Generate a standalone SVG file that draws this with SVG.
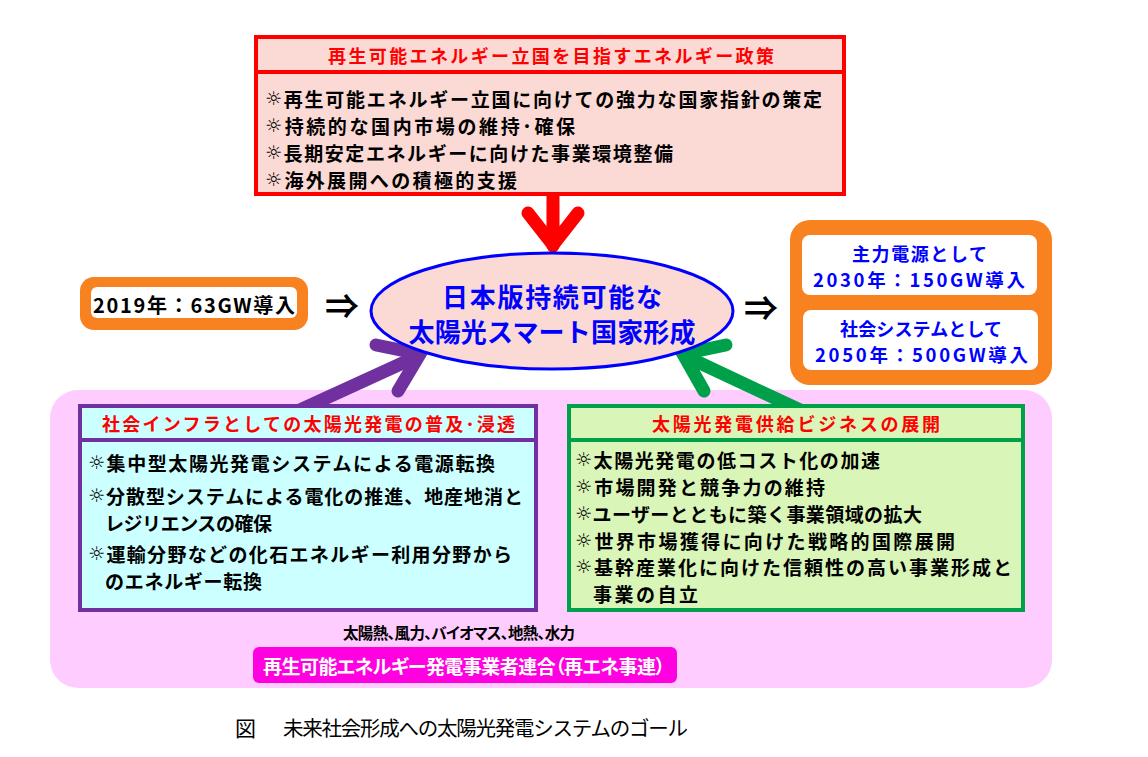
<svg xmlns="http://www.w3.org/2000/svg" width="1148" height="757" viewBox="0 0 1148 757">
<style>
text{font-family:"Noto Sans CJK JP","Liberation Sans",sans-serif;dominant-baseline:central}
.b{font-weight:bold}
.p{font-feature-settings:"palt"}
.body{font-size:19px;font-weight:bold;fill:#000}
.hdr{font-size:18px;font-weight:bold;fill:#ff0000}
.blue{fill:#0000ff;font-weight:bold}
.sym{font-size:34px;font-weight:bold;fill:#000}
.sun{font-family:"DejaVu Sans",sans-serif;font-size:19px;font-weight:normal}
</style>
<rect width="1148" height="757" fill="#ffffff"/>
<!-- background panel -->
<g id="panel">
<rect x="50" y="390" width="1002" height="298" rx="28" fill="#ffccff"/>
</g>
<!-- connectors -->
<g id="connectors" fill="none" stroke-linecap="round" stroke-width="13">
<g stroke="#ff0000">
<line x1="553" y1="196" x2="553" y2="246"/>
<path d="M528,213 L553,245 L578,213" stroke-linejoin="miter"/>
</g>
<g stroke="#7030a0">
<line x1="300" y1="410" x2="418" y2="356"/>
<path d="M376,345 L420,354 L398,391" stroke-linejoin="miter"/>
</g>
<g stroke="#00a04a">
<line x1="800" y1="410" x2="685" y2="356"/>
<path d="M726,345 L683,354 L704,391" stroke-linejoin="miter"/>
</g>
</g>
<!-- top policy box -->
<g id="policy">
<rect x="256" y="37" width="588" height="157" fill="#fbd9d4" stroke="#ff0000" stroke-width="4"/>
<line x1="256" y1="72" x2="844" y2="72" stroke="#ff0000" stroke-width="4"/>
<text class="hdr" x="328" y="55" textLength="446" lengthAdjust="spacing">再生可能エネルギー立国を目指すエネルギー政策</text>
<text class="body" x="265" y="98" textLength="557" lengthAdjust="spacing"><tspan class="sun">☼</tspan>再生可能エネルギー立国に向けての強力な国家指針の策定</text>
<text class="body" x="265" y="125" textLength="310" lengthAdjust="spacing"><tspan class="sun">☼</tspan>持続的な国内市場の維持･確保</text>
<text class="body" x="265" y="152" textLength="408" lengthAdjust="spacing"><tspan class="sun">☼</tspan>長期安定エネルギーに向けた事業環境整備</text>
<text class="body" x="265" y="179" textLength="252" lengthAdjust="spacing"><tspan class="sun">☼</tspan>海外展開への積極的支援</text>
</g>
<!-- center ellipse -->
<g id="goal">
<ellipse cx="552" cy="311" rx="181" ry="58" fill="#fbd9d4" stroke="#0000ff" stroke-width="3"/>
<text class="blue" x="552" y="295" font-size="26" text-anchor="middle" textLength="220" lengthAdjust="spacing">日本版持続可能な</text>
<text class="blue" x="552" y="330" font-size="26" text-anchor="middle" textLength="287" lengthAdjust="spacing">太陽光スマート国家形成</text>
</g>
<!-- left box -->
<g id="now">
<rect x="80" y="277" width="228" height="53" rx="14" fill="#f7821f"/>
<rect x="91" y="287" width="206" height="31" rx="6" fill="#ffffff"/>
<text class="b" x="93" y="304" font-size="20" textLength="202" lengthAdjust="spacing">2019年：63GW導入</text>
</g>
<g id="arrow-left">
<text class="sym" x="342" y="304" text-anchor="middle">⇒</text>
</g>
<g id="arrow-right">
<text class="sym" x="761" y="306" text-anchor="middle">⇒</text>
</g>
<!-- right box -->
<g id="future">
<rect x="790" y="220" width="262" height="165" rx="20" fill="#f7821f"/>
<rect x="802" y="235" width="235" height="60" rx="8" fill="#ffffff"/>
<rect x="803" y="310" width="235" height="60" rx="8" fill="#ffffff"/>
<text class="blue" x="852" y="253" font-size="18" textLength="135" lengthAdjust="spacing">主力電源として</text>
<text class="blue" x="813" y="279" font-size="18.5" textLength="212" lengthAdjust="spacing">2030年：150GW導入</text>
<text class="blue" x="840" y="328" font-size="18" textLength="162" lengthAdjust="spacing">社会システムとして</text>
<text class="blue" x="815" y="354" font-size="18.5" textLength="213" lengthAdjust="spacing">2050年：500GW導入</text>
</g>
<!-- purple box -->
<g id="infra">
<rect x="80" y="406" width="456" height="204" fill="#ccffff" stroke="#7030a0" stroke-width="4"/>
<line x1="80" y1="440" x2="538" y2="440" stroke="#7030a0" stroke-width="4"/>
<text class="hdr" x="102" y="423" textLength="413" lengthAdjust="spacing">社会インフラとしての太陽光発電の普及･浸透</text>
<text class="body" x="88" y="462" textLength="407" lengthAdjust="spacing"><tspan class="sun">☼</tspan>集中型太陽光発電システムによる電源転換</text>
<text class="body" x="88" y="495" textLength="435" lengthAdjust="spacing"><tspan class="sun">☼</tspan>分散型システムによる電化の推進、地産地消と</text>
<text class="body" x="105" y="522" textLength="167" lengthAdjust="spacing">レジリエンスの確保</text>
<text class="body" x="88" y="553" textLength="424" lengthAdjust="spacing"><tspan class="sun">☼</tspan>運輸分野などの化石エネルギー利用分野から</text>
<text class="body" x="105" y="580" textLength="157" lengthAdjust="spacing">のエネルギー転換</text>
</g>
<!-- green box -->
<g id="business">
<rect x="569" y="406" width="454" height="204" fill="#d9f5b8" stroke="#00a04a" stroke-width="4"/>
<line x1="569" y1="440" x2="1025" y2="440" stroke="#00a04a" stroke-width="4"/>
<text class="hdr" x="652" y="423" textLength="288" lengthAdjust="spacing">太陽光発電供給ビジネスの展開</text>
<text class="body" x="575" y="459" textLength="305" lengthAdjust="spacing"><tspan class="sun">☼</tspan>太陽光発電の低コスト化の加速</text>
<text class="body" x="575" y="486" textLength="250" lengthAdjust="spacing"><tspan class="sun">☼</tspan>市場開発と競争力の維持</text>
<text class="body" x="575" y="513" textLength="347" lengthAdjust="spacing"><tspan class="sun">☼</tspan>ユーザーとともに築く事業領域の拡大</text>
<text class="body" x="575" y="540" textLength="380" lengthAdjust="spacing"><tspan class="sun">☼</tspan>世界市場獲得に向けた戦略的国際展開</text>
<text class="body" x="575" y="566" textLength="437" lengthAdjust="spacing"><tspan class="sun">☼</tspan>基幹産業化に向けた信頼性の高い事業形成と</text>
<text class="body" x="593" y="593" textLength="105" lengthAdjust="spacing">事業の自立</text>
</g>
<!-- bottom labels -->
<g id="sources">
<text class="b p" x="343" y="632" font-size="15.5" textLength="232" lengthAdjust="spacing">太陽熱、風力、バイオマス、地熱、水力</text>
</g>
<g id="association">
<rect x="253" y="647" width="424" height="36" rx="6" fill="#ff00e0"/>
<text class="b p" x="263" y="665" font-size="19" fill="#ffffff" textLength="402" lengthAdjust="spacing">再生可能エネルギー発電事業者連合（再エネ事連）</text>
</g>
<g id="caption">
<text x="235" y="727" font-size="21" fill="#000">図</text>
<text x="283" y="727" font-size="20.5" fill="#000" textLength="405" lengthAdjust="spacing">未来社会形成への太陽光発電システムのゴール</text>
</g>
</svg>
